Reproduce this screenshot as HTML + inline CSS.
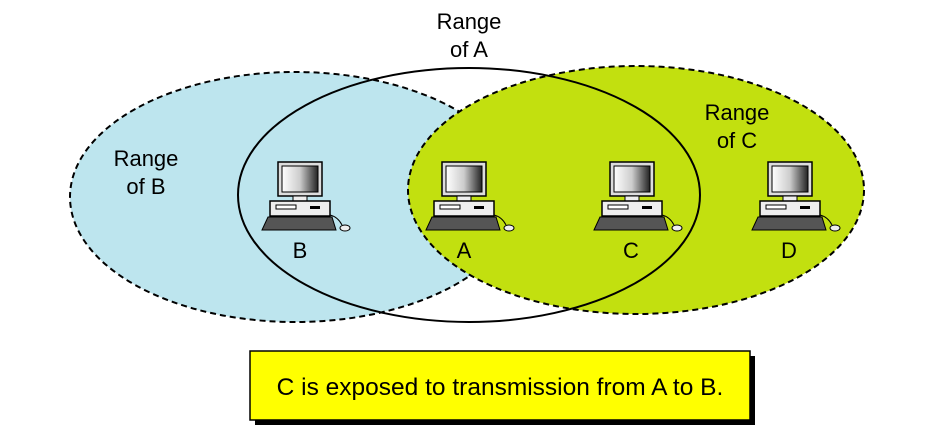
<!DOCTYPE html>
<html><head><style>body{margin:0;background:#fff;}svg{display:block}</style></head><body>
<svg width="938" height="435" viewBox="0 0 938 435" font-family="Liberation Sans, sans-serif">
<defs>
<linearGradient id="g" x1="0" x2="1"><stop offset="0" stop-color="#fff"/><stop offset="0.5" stop-color="#ccc"/><stop offset="1" stop-color="#222"/></linearGradient>
<g id="pc">
<rect x="18" y="7" width="44" height="34" fill="#ddd" stroke="#000" stroke-width="1.5"/>
<rect x="22" y="11" width="36" height="26" fill="url(#g)" stroke="#000"/>
<rect x="33" y="41" width="14" height="5" fill="#eee" stroke="#000"/>
<rect x="10" y="46" width="60" height="15" fill="#eee" stroke="#000" stroke-width="1.5"/>
<rect x="16" y="50" width="20" height="4" fill="#fff" stroke="#000"/>
<rect x="50" y="51" width="10" height="3" fill="#000"/>
<path d="M2 75 L8 62 L72 62 L76 75 Z" fill="#555" stroke="#000"/>
<path d="M70 60 Q78 62 82 70" fill="none" stroke="#000"/>
<ellipse cx="85" cy="73" rx="5" ry="3" fill="#eee" stroke="#000"/>
</g>
</defs>
<ellipse cx="295" cy="197" rx="225" ry="125" fill="#bde5ee" stroke="#000" stroke-width="2" stroke-dasharray="6,4"/>
<ellipse cx="636" cy="190" rx="228" ry="124" fill="#c2e00f" stroke="#000" stroke-width="2" stroke-dasharray="6,4"/>
<ellipse cx="469" cy="195" rx="231" ry="127" fill="none" stroke="#000" stroke-width="2"/>
<use href="#pc" x="260" y="155"/>
<use href="#pc" x="424" y="155"/>
<use href="#pc" x="592" y="155"/>
<use href="#pc" x="750" y="155"/>
<g font-size="22" text-anchor="middle" fill="#000">
<text x="300" y="258">B</text><text x="464" y="258">A</text><text x="631" y="258">C</text><text x="789" y="258">D</text>
<text x="469" y="29">Range</text><text x="469" y="57">of A</text>
<text x="146" y="166">Range</text><text x="146" y="194">of B</text>
<text x="737" y="120">Range</text><text x="737" y="148">of C</text>
</g>
<rect x="255" y="356" width="500" height="69" fill="#000"/>
<rect x="250" y="351" width="500" height="69" fill="#ffff00" stroke="#000" stroke-width="1.5"/>
<text x="500" y="395" font-size="24.5" text-anchor="middle">C is exposed to transmission from A to B.</text>
</svg>
</body></html>
